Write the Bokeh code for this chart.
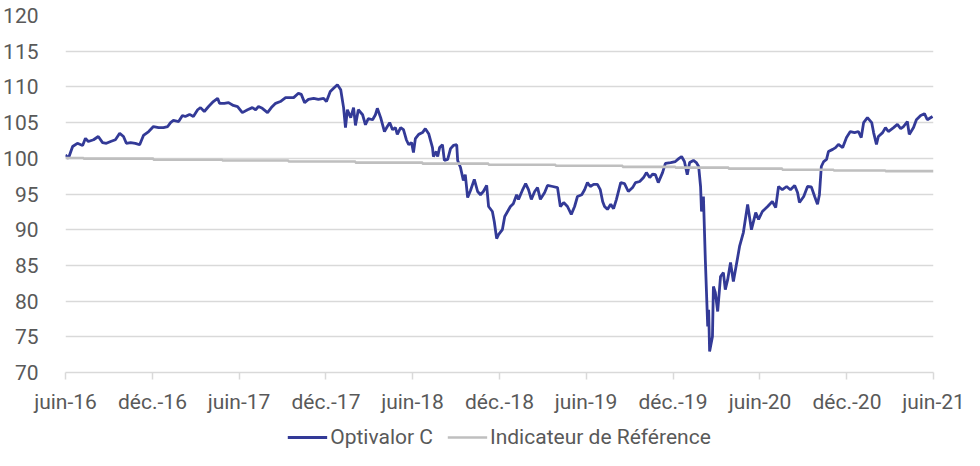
import pandas as pd
from bokeh.plotting import figure
from bokeh.layouts import column
from bokeh.models import (ColumnDataSource, FixedTicker, CustomJSTickFormatter,
                          Legend, LegendItem, Range1d)
from bokeh.embed import file_html
from bokeh.resources import INLINE

# ---------------- data ----------------
tick_dates = ["2016-06-01", "2016-12-01", "2017-06-01", "2017-12-01", "2018-06-01",
              "2018-12-01", "2019-06-01", "2019-12-01", "2020-06-01", "2020-12-01",
              "2021-06-01"]
tick_labels = ["juin-16", "déc.-16", "juin-17", "déc.-17", "juin-18", "déc.-18",
               "juin-19", "déc.-19", "juin-20", "déc.-20", "juin-21"]

fund_dates = [
    "2016-06-01", "2016-06-07", "2016-06-16", "2016-06-26", "2016-07-07", "2016-07-13",
    "2016-07-19", "2016-07-30", "2016-08-09", "2016-08-18", "2016-08-26", "2016-09-04",
    "2016-09-14", "2016-09-23", "2016-10-01", "2016-10-07", "2016-10-16", "2016-10-26",
    "2016-11-04", "2016-11-12", "2016-11-23", "2016-12-03", "2016-12-14", "2016-12-24",
    "2017-01-02", "2017-01-08", "2017-01-14", "2017-01-25", "2017-02-02", "2017-02-08",
    "2017-02-17", "2017-02-25", "2017-03-06", "2017-03-12", "2017-03-20", "2017-03-29",
    "2017-04-08", "2017-04-17", "2017-04-21", "2017-05-01", "2017-05-10", "2017-05-20",
    "2017-05-29", "2017-06-08", "2017-06-19", "2017-06-29", "2017-07-06", "2017-07-12",
    "2017-07-20", "2017-07-31", "2017-08-08", "2017-08-17", "2017-08-27", "2017-09-07",
    "2017-09-15", "2017-09-24", "2017-10-04", "2017-10-10", "2017-10-17", "2017-10-25",
    "2017-11-05", "2017-11-15", "2017-11-26", "2017-12-02", "2017-12-10", "2017-12-17",
    "2017-12-25", "2018-01-01", "2018-01-07", "2018-01-11", "2018-01-15", "2018-01-22",
    "2018-01-28", "2018-02-01", "2018-02-07", "2018-02-16", "2018-02-22", "2018-02-28",
    "2018-03-09", "2018-03-15", "2018-03-19", "2018-03-26", "2018-04-03", "2018-04-09",
    "2018-04-14", "2018-04-20", "2018-04-26", "2018-04-30", "2018-05-07", "2018-05-13",
    "2018-05-19", "2018-05-24", "2018-05-30", "2018-06-03", "2018-06-07", "2018-06-14",
    "2018-06-22", "2018-06-28", "2018-07-05", "2018-07-13", "2018-07-15", "2018-07-21",
    "2018-07-24", "2018-07-28", "2018-08-03", "2018-08-07", "2018-08-14", "2018-08-20",
    "2018-08-26", "2018-09-02", "2018-09-04", "2018-09-10", "2018-09-16", "2018-09-20",
    "2018-09-25", "2018-10-01", "2018-10-09", "2018-10-16", "2018-10-22", "2018-10-28",
    "2018-11-04", "2018-11-08", "2018-11-16", "2018-11-20", "2018-11-25", "2018-11-29",
    "2018-12-07", "2018-12-12", "2018-12-18", "2018-12-24", "2018-12-30", "2019-01-06",
    "2019-01-10", "2019-01-18", "2019-01-25", "2019-01-31", "2019-02-06", "2019-02-13",
    "2019-02-19", "2019-02-25", "2019-03-06", "2019-03-12", "2019-03-23", "2019-04-02",
    "2019-04-08", "2019-04-15", "2019-04-23", "2019-05-01", "2019-05-08", "2019-05-14",
    "2019-05-23", "2019-05-29", "2019-06-04", "2019-06-10", "2019-06-17", "2019-06-25",
    "2019-07-01", "2019-07-06", "2019-07-10", "2019-07-16", "2019-07-23", "2019-07-29",
    "2019-08-04", "2019-08-13", "2019-08-21", "2019-08-29", "2019-09-07", "2019-09-13",
    "2019-09-22", "2019-09-30", "2019-10-06", "2019-10-13", "2019-10-19", "2019-10-25",
    "2019-10-31", "2019-11-09", "2019-11-15", "2019-11-26", "2019-12-06", "2019-12-13",
    "2019-12-19", "2019-12-25", "2019-12-31", "2020-01-05", "2020-01-13", "2020-01-19",
    "2020-01-24", "2020-01-28", "2020-01-30", "2020-02-03", "2020-02-07", "2020-02-12",
    "2020-02-14", "2020-02-16", "2020-02-22", "2020-02-24", "2020-02-28", "2020-03-04",
    "2020-03-10", "2020-03-16", "2020-03-20", "2020-03-25", "2020-03-31", "2020-04-06",
    "2020-04-15", "2020-04-19", "2020-04-27", "2020-05-06", "2020-05-14", "2020-05-23",
    "2020-05-29", "2020-06-06", "2020-06-17", "2020-06-27", "2020-07-04", "2020-07-10",
    "2020-07-18", "2020-07-27", "2020-08-04", "2020-08-13", "2020-08-19", "2020-08-23",
    "2020-09-01", "2020-09-09", "2020-09-17", "2020-09-24", "2020-09-30", "2020-10-04",
    "2020-10-08", "2020-10-13", "2020-10-19", "2020-10-23", "2020-11-01", "2020-11-07",
    "2020-11-13", "2020-11-22", "2020-11-30", "2020-12-08", "2020-12-17", "2020-12-25",
    "2020-12-31", "2021-01-05", "2021-01-13", "2021-01-22", "2021-01-26", "2021-02-01",
    "2021-02-05", "2021-02-14", "2021-02-20", "2021-02-26", "2021-03-09", "2021-03-17",
    "2021-03-24", "2021-03-30", "2021-04-07", "2021-04-11", "2021-04-20", "2021-04-26",
    "2021-05-05", "2021-05-13", "2021-05-19", "2021-05-30",
]
fund_values = [
    100.5, 99.97, 101.65, 102.1, 101.8, 102.8,
    102.35, 102.6, 103.05, 102.2, 102.1, 102.35,
    102.6, 103.5, 103.05, 102.1, 102.2, 102.1,
    101.9, 103.2, 103.75, 104.45, 104.3, 104.3,
    104.45, 105.0, 105.3, 105.15, 106.0, 105.85,
    106.15, 105.85, 106.8, 107.1, 106.55, 107.25,
    107.95, 108.4, 107.7, 107.7, 107.8, 107.4,
    107.25, 106.4, 106.8, 107.1, 106.8, 107.25,
    107.0, 106.4, 107.1, 107.7, 107.95, 108.5,
    108.5, 108.5, 109.1, 108.95, 107.8, 108.25,
    108.4, 108.25, 108.4, 107.95, 109.35, 109.8,
    110.3, 109.6, 107.1, 104.3, 106.8, 105.7,
    107.1, 104.6, 106.8, 106.1, 104.7, 105.55,
    105.4, 106.1, 107.0, 105.7, 103.75, 104.45,
    105.0, 104.0, 104.3, 103.35, 104.3, 104.0,
    102.6, 101.9, 102.2, 100.8, 102.75, 103.35,
    103.6, 104.15, 103.45, 101.5, 100.25, 100.95,
    100.25, 101.5, 101.9, 99.7, 99.85, 101.35,
    101.8, 101.9, 99.7, 98.7, 96.9, 97.7,
    94.5, 95.5, 97.05, 95.35, 94.9, 95.35,
    96.2, 93.25, 92.55, 91.15, 88.75, 89.3,
    90.0, 91.85, 92.55, 93.25, 93.65, 94.9,
    94.25, 95.5, 96.45, 95.6, 94.25, 95.35,
    95.9, 94.25, 95.2, 96.2, 96.05, 95.9,
    93.25, 93.8, 93.25, 92.15, 93.25, 94.65,
    94.9, 95.6, 96.6, 96.05, 96.35, 96.35,
    95.6, 93.95, 93.25, 92.85, 93.55, 92.95,
    94.25, 96.6, 96.45, 95.35, 95.9, 96.6,
    96.75, 97.3, 98.0, 97.3, 97.8, 97.7,
    96.6, 98.0, 99.3, 99.4, 99.55, 99.95,
    100.25, 99.55, 97.7, 99.4, 99.7, 99.4,
    98.85, 96.05, 92.55, 94.65, 85.8, 76.45,
    78.8, 72.95, 75.05, 82.05, 81.2, 78.55,
    83.45, 84.0, 81.6, 83.0, 85.4, 82.75,
    86.1, 87.65, 89.6, 93.55, 90.0, 92.4,
    91.45, 92.55, 93.25, 93.95, 93.1, 96.05,
    95.6, 96.05, 95.6, 96.2, 95.2, 93.8,
    94.65, 96.05, 96.0, 94.65, 93.55, 94.9,
    98.85, 99.55, 99.85, 100.95, 101.25, 101.5,
    101.95, 101.5, 102.9, 103.75, 103.6, 103.75,
    102.9, 105.0, 105.7, 105.0, 103.6, 101.95,
    103.05, 103.6, 104.3, 103.75, 104.3, 104.75,
    104.15, 104.45, 105.15, 103.35, 104.3, 105.4,
    106.0, 106.25, 105.4, 105.85,
]

ref_dates = ["2016-06-01", "2016-07-09", "2016-12-03", "2017-04-27", "2017-09-13",
             "2018-02-01", "2018-06-22", "2018-11-08", "2019-03-29", "2019-08-17",
             "2019-12-06", "2020-03-27", "2020-07-18", "2020-11-03", "2021-02-20",
             "2021-06-01"]
ref_values = [100.05, 99.95, 99.8, 99.7, 99.55, 99.4, 99.25, 99.1, 98.95, 98.8,
              98.7, 98.55, 98.4, 98.3, 98.2, 98.2]

series_names = ["Optivalor C", "Indicateur de Référence"]
y_ticks = [70, 75, 80, 85, 90, 95, 100, 105, 110, 115, 120]

# ---------------- chart ----------------
FONT = "Roboto"
TEXT = "#595959"
BLUE = "#333A97"
GREY = "#BFBFBF"

fund_src = ColumnDataSource(dict(x=pd.to_datetime(fund_dates), y=fund_values))
ref_src = ColumnDataSource(dict(x=pd.to_datetime(ref_dates), y=ref_values))

t0 = pd.Timestamp(tick_dates[0])
t1 = pd.Timestamp(tick_dates[-1])

p = figure(x_axis_type="datetime", output_backend="svg", toolbar_location=None,
           frame_width=868, frame_height=357,
           min_border_left=57, min_border_right=39, min_border_top=15, min_border_bottom=46,
           x_range=Range1d(t0, t1), y_range=Range1d(70, 120))
p.outline_line_color = None
p.background_fill_color = "white"
p.border_fill_color = "white"

r_fund = p.line("x", "y", source=fund_src, line_color=BLUE, line_width=2.8)
r_ref = p.step("x", "y", source=ref_src, mode="after", line_color=GREY, line_width=2.6)

# axes
tick_ms = [pd.Timestamp(d).value / 1e6 for d in tick_dates]
p.xaxis.ticker = FixedTicker(ticks=tick_ms)
p.xaxis.formatter = CustomJSTickFormatter(args=dict(tvals=tick_ms, tlabels=tick_labels), code="""
    let best = 0, bd = Infinity;
    for (let i = 0; i < tvals.length; i++) {
        const d = Math.abs(tvals[i] - tick);
        if (d < bd) { bd = d; best = i; }
    }
    return tlabels[best];
""")
p.xaxis.axis_line_color = "#D9D9D9"
p.xaxis.axis_line_width = 1.5
p.xaxis.major_tick_line_color = "#D9D9D9"
p.xaxis.major_tick_line_width = 1.5
p.xaxis.major_tick_out = 7
p.xaxis.major_tick_in = 0
p.xaxis.minor_tick_line_color = None
p.xaxis.major_label_standoff = 10
p.xaxis.major_label_text_font = FONT
p.xaxis.major_label_text_font_size = "21px"
p.xaxis.major_label_text_color = TEXT

p.yaxis.ticker = FixedTicker(ticks=y_ticks)
p.yaxis.axis_line_color = None
p.yaxis.major_tick_line_color = None
p.yaxis.minor_tick_line_color = None
p.yaxis.major_label_standoff = 21
p.yaxis.major_label_text_font = FONT
p.yaxis.major_label_text_font_size = "21px"
p.yaxis.major_label_text_color = TEXT

p.xgrid.grid_line_color = None
p.ygrid.ticker = FixedTicker(ticks=y_ticks[1:])
p.ygrid.grid_line_color = "#D9D9D9"
p.ygrid.grid_line_width = 1.5

p.renderers = [r_fund, r_ref]

# ---------------- legend strip ----------------
lg = figure(output_backend="svg", toolbar_location=None,
            frame_width=868, frame_height=38,
            min_border_left=57, min_border_right=39, min_border_top=0, min_border_bottom=0,
            x_range=Range1d(0, 1), y_range=Range1d(0, 1),
            x_axis_location=None, y_axis_location=None)
lg.outline_line_color = None
lg.xgrid.visible = False
lg.ygrid.visible = False
# legend key renderers: their points lie outside the strip's range, so only the keys show
k_fund = lg.line(x=[5, 6], y=[5, 6], line_color=BLUE, line_width=2.8)
k_ref = lg.line(x=[5, 6], y=[5, 6], line_color=GREY, line_width=2.6)

legend = Legend(items=[LegendItem(label=series_names[0], renderers=[k_fund]),
                       LegendItem(label=series_names[1], renderers=[k_ref])],
                orientation="horizontal", location="center",
                label_text_font=FONT, label_text_font_size="21px",
                label_text_color=TEXT, glyph_width=40, glyph_height=20,
                label_height=20, label_standoff=3, spacing=14, padding=0, margin=0,
                border_line_color=None, background_fill_alpha=0)
lg.add_layout(legend, "center")

layout = column(p, lg, spacing=0)
open("out.html", "w").write(file_html(layout, INLINE))
